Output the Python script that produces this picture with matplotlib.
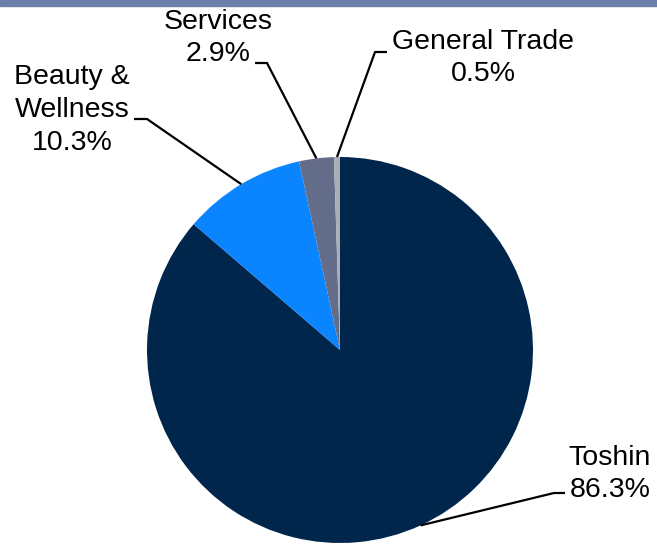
import numpy as np
import matplotlib
matplotlib.use("Agg")
from matplotlib import pyplot as plt
from matplotlib.patches import Rectangle

# chart data
segments = ['Toshin', 'Beauty &\nWellness', 'Services', 'General Trade']
shares = [86.3, 10.3, 2.9, 0.5]
colors = ['#00264c', '#0a84ff', '#636d8a', '#a9aeb8']

# label layout (figure pixels, origin top-left) : text centre, elbow, tail end
text_pos = [(610, 474), (72, 110), (218, 38), (483, 58)]
elbows = [(554, 493), (147, 119), (267, 63), (375, 52)]
tails = [(565, 493), (134, 119), (255, 63), (387, 52)]

W, H = 657, 545
cx, cy, R = 340, 350, 193

plt.rcParams['font.family'] = ['Liberation Sans', 'DejaVu Sans']

fig = plt.figure(figsize=(W / 100, H / 100), dpi=100)
ax = fig.add_axes([(cx - R) / W, (H - cy - R) / H, 2 * R / W, 2 * R / H])

wedges, _ = ax.pie(shares, colors=colors, startangle=90, counterclock=False,
                   radius=1, wedgeprops=dict(linewidth=0))
ax.set_xlim(-1, 1)
ax.set_ylim(-1, 1)
ax.set_aspect('equal')
ax.axis('off')


def px2data(p):
    return (p[0] - cx) / R, (cy - p[1]) / R


for i, w in enumerate(wedges):
    mid = np.deg2rad((w.theta1 + w.theta2) / 2)
    start = (np.cos(mid), np.sin(mid))
    ex, ey = px2data(elbows[i])
    tx, ty = px2data(tails[i])
    ax.plot([start[0], ex, tx], [start[1], ey, ty], color='black', lw=1.6,
            clip_on=False, solid_capstyle='butt')
    label = segments[i] + '\n' + f'{shares[i]:.1f}%'
    fig.text(text_pos[i][0] / W, 1 - text_pos[i][1] / H, label,
             ha='center', va='center', fontsize=20.5, linespacing=1.33,
             color='black')

# top banner line
fig.patches.append(Rectangle((0, 1 - 6 / H), 1, 6 / H, transform=fig.transFigure,
                             color='#6a80ab', zorder=5))

plt.savefig('out.png', dpi=100)
